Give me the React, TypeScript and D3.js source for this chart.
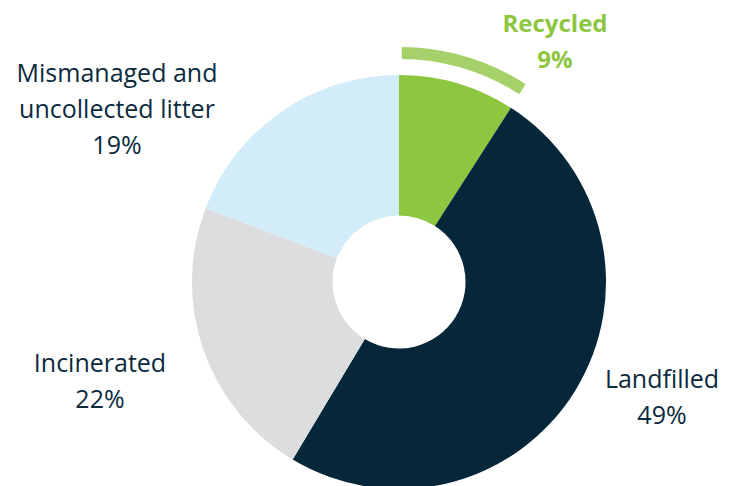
import React from "react";
import * as d3 from "d3";

const categories = ["Recycled", "Landfilled", "Incinerated", "Mismanaged and uncollected litter"];
const values = [9, 49, 22, 19];
const colors = ["#8dc63f", "#062639", "#dcdddf", "#d3ecf9"];
const labelLines = [["Recycled"], ["Landfilled"], ["Incinerated"], ["Mismanaged and", "uncollected litter"]];
const labelPos = [
  [555, 32],
  [662, 388],
  [100, 372],
  [117, 82],
];

const W = 737;
const H = 486;
const cx = 399;
const cy = 282;
const R = 207;
const r0 = 66.5;

export default function App() {
  const pie = d3.pie<number>().sort(null).value((d) => d);
  const arcs = pie(values);
  const arc = d3.arc<d3.PieArcDatum<number>>().innerRadius(r0).outerRadius(R);
  const hl = d3.arc<any>().innerRadius(223).outerRadius(235);
  const rec = arcs[0];
  const font = "'Open Sans', sans-serif";
  return (
    <svg width={W} height={H} style={{ position: "absolute", left: 0, top: 0 }}>
      <g transform={`translate(${cx},${cy})`}>
        {arcs.map((a, i) => (
          <path key={i} d={arc(a) || ""} fill={colors[i]} />
        ))}
        <path
          d={hl({ startAngle: rec.startAngle + 0.012, endAngle: rec.endAngle - 0.002 }) || ""}
          fill="#a6d16a"
        />
      </g>
      {categories.map((c, i) => {
        const lines = [...labelLines[i], `${values[i]}%`];
        const green = i === 0;
        return (
          <text
            key={c}
            x={labelPos[i][0]}
            y={labelPos[i][1]}
            textAnchor="middle"
            fontFamily={font}
            fontSize={green ? 24 : 25}
            fontWeight={green ? 700 : 400}
            fill={green ? "#8dc63f" : "#0b2a3e"}
          >
            {lines.map((l, j) => (
              <tspan key={j} x={labelPos[i][0]} dy={j === 0 ? 0 : 36}>
                {l}
              </tspan>
            ))}
          </text>
        );
      })}
    </svg>
  );
}
